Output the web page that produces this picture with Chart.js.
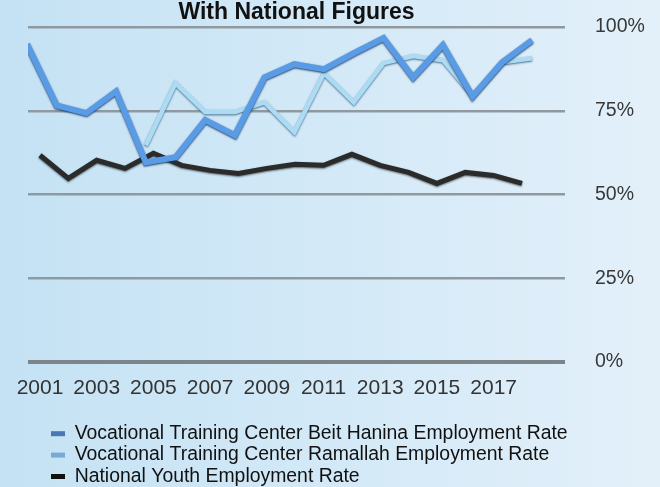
<!DOCTYPE html>
<html>
<head>
<meta charset="utf-8">
<script src="https://cdn.jsdelivr.net/npm/chart.js@4/dist/chart.umd.min.js"></script>
<style>
  html, body { margin: 0; padding: 0; }
  body { width: 660px; height: 487px; overflow: hidden;
         background: linear-gradient(to right, #c4e2f4 0%, #d3e9f7 50%, #e3f0fa 100%); }
  canvas { display: block; }
</style>
</head>
<body>
<canvas id="c" width="660" height="487"></canvas>
<script>
// ---- data ----
const years = [2001, 2002, 2003, 2004, 2005, 2006, 2007, 2008, 2009, 2010, 2011, 2012, 2013, 2014, 2015, 2016, 2017, 2018];
const tickYears = [2001, 2003, 2005, 2007, 2009, 2011, 2013, 2015, 2017];
const yTicks = [0, 25, 50, 75, 100];
const beitHanina = [94.9, 76.6, 74.3, 80.8, 59.6, 61.1, 72.2, 67.7, 85.0, 88.9, 87.4, 92.2, 96.7, 85.0, 94.6, 79.3, 89.5, 96.1];
const ramallah = [null, null, null, null, 64.7, 83.2, 74.6, 74.6, 77.5, 68.6, 86.2, 77.5, 89.2, 91.3, 90.1, 79.6, 89.5, 90.7];
const national = [61.7, 54.8, 60.2, 57.8, 62.3, 58.7, 57.2, 56.3, 57.8, 59.0, 58.7, 62.0, 58.7, 56.6, 53.3, 56.6, 55.7, 53.3];
const seriesNames = [
  'Vocational Training Center Beit Hanina Employment Rate',
  'Vocational Training Center Ramallah Employment Rate',
  'National Youth Employment Rate'
];
const titleText = 'With National Figures';

// ---- styles ----
const lineColors = ['#5a9be6', '#acdcf4', '#2b2b2b'];
const legendColors = ['#4a78b4', '#78a9d8', '#111111'];
const shadowColors = ['rgba(25,55,100,0.95)', 'rgba(60,95,130,0.9)', 'rgba(0,0,0,0.55)'];

const toPoints = arr => years.map((yr, i) => ({ x: yr, y: arr[i] }));

Chart.defaults.font.family = "'Liberation Sans', Arial, sans-serif";

const shadowPlugin = {
  id: 'lineShadow',
  beforeDatasetDraw(chart, args) {
    const ctx = chart.ctx;
    ctx.save();
    ctx.shadowColor = shadowColors[args.index];
    ctx.shadowBlur = 2;
    ctx.shadowOffsetX = 0;
    ctx.shadowOffsetY = 1;
  },
  afterDatasetDraw(chart) {
    chart.ctx.restore();
  }
};

const legendShift = {
  id: 'legendShift',
  afterLayout(chart) {
    if (chart.legend) {
      chart.legend.left += 21;
      chart.legend.right += 21;
    }
  }
};

new Chart(document.getElementById('c'), {
  type: 'line',
  data: {
    datasets: [
      { label: seriesNames[0], data: toPoints(beitHanina), xAxisID: 'x2', borderColor: lineColors[0], backgroundColor: legendColors[0], borderWidth: 6 },
      { label: seriesNames[1], data: toPoints(ramallah), xAxisID: 'x2', borderColor: lineColors[1], backgroundColor: legendColors[1], borderWidth: 4.5 },
      { label: seriesNames[2], data: toPoints(national), xAxisID: 'x', borderColor: lineColors[2], backgroundColor: legendColors[2], borderWidth: 5 }
    ]
  },
  options: {
    responsive: false,
    devicePixelRatio: 1,
    animation: false,
    layout: { padding: { left: 28, right: 0, top: 0, bottom: 0 } },
    elements: {
      point: { radius: 0, hoverRadius: 0 },
      line: { tension: 0, fill: false, borderCapStyle: 'butt' }
    },
    scales: {
      x: {
        type: 'linear',
        position: 'bottom',
        min: 2000.577,
        max: 2019.517,
        afterBuildTicks: axis => { axis.ticks = tickYears.map(v => ({ value: v })); },
        afterFit: axis => { axis.height = 60; axis.paddingLeft = 0; axis.paddingRight = 0; },
        grid: { display: false, drawTicks: false },
        border: { display: false },
        ticks: {
          autoSkip: false, maxRotation: 0, padding: 14,
          color: '#333333', font: { size: 21 },
          callback: v => String(v)
        }
      },
      x2: {
        type: 'linear',
        display: false,
        min: 2001.034,
        max: 2019.111
      },
      y: {
        position: 'right',
        min: 0,
        max: 100,
        afterBuildTicks: axis => { axis.ticks = yTicks.map(v => ({ value: v })); },
        afterFit: axis => { axis.width = 95; axis.paddingTop = 0; axis.paddingBottom = 0; },
        border: { display: false },
        grid: {
          drawTicks: false,
          color: ctx => (ctx.tick && ctx.tick.value === 0) ? '#7c858a' : '#8f999f',
          lineWidth: ctx => (ctx.tick && ctx.tick.value === 0) ? 4 : 2.5
        },
        ticks: {
          padding: 30,
          color: '#383838',
          font: { size: 19.5 },
          callback: v => v + '%'
        }
      }
    },
    plugins: {
      title: {
        display: true,
        text: titleText,
        fullSize: false,
        color: '#111111',
        font: { size: 23, weight: 'bold' },
        padding: { top: -1, bottom: 0.4 }
      },
      legend: {
        display: true,
        position: 'bottom',
        align: 'start',
        maxHeight: 65,
        labels: {
          boxWidth: 14,
          boxHeight: 5,
          padding: 2,
          color: '#111111',
          font: { size: 19.4 },
          generateLabels: chart => Chart.defaults.plugins.legend.labels.generateLabels(chart).map((it, i) => Object.assign(it, {
            fillStyle: legendColors[i], strokeStyle: 'rgba(0,0,0,0)', lineWidth: 0
          }))
        }
      },
      tooltip: { enabled: false }
    }
  },
  plugins: [shadowPlugin, legendShift]
});
</script>
</body>
</html>
